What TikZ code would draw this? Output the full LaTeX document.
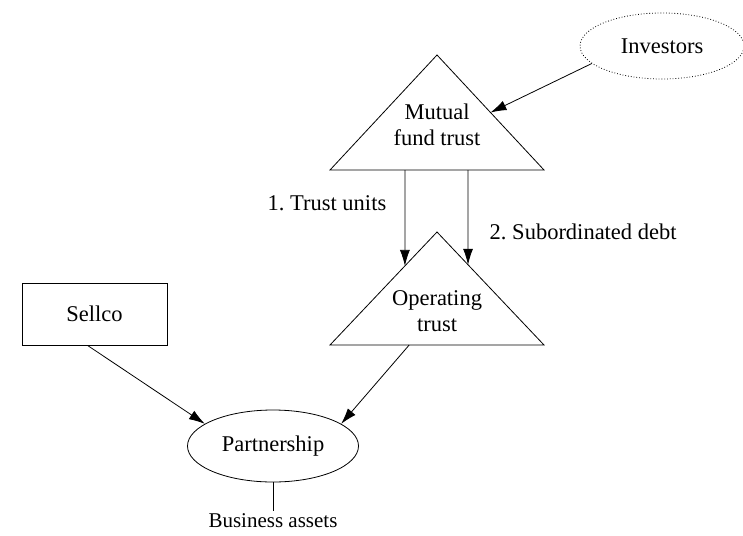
\documentclass[tikz,border=0pt]{standalone}
\usepackage{fontspec}
\setmainfont{Liberation Serif}
\usetikzlibrary{arrows.meta}
\usetikzlibrary{calc}
\usetikzlibrary{shapes.geometric}

\begin{document}
\frenchspacing
\begin{tikzpicture}[x=1pt,y=-1pt,line width=0.8pt,font=\fontsize{22.5}{26}\selectfont,
  >={Latex[length=16pt,width=10pt]},
  party/.style={draw,ellipse,inner sep=0pt}]
  \useasboundingbox (0,0) rectangle (743,535);

  \node[party,dotted,minimum width=164pt,minimum height=66pt] (inv) at (662,46) {Investors};

  % mutual fund trust
  \coordinate (mftTop) at (437,55);
  \coordinate (mftL) at (330,170);
  \coordinate (mftR) at (544,170);
  \draw (mftTop)--(mftL)--(mftR)--cycle;
  \node[align=center] (mft) at (437,125) {Mutual\\fund trust};

  % operating trust
  \coordinate (opTop) at (437,232);
  \coordinate (opL) at (330,345);
  \coordinate (opR) at (544,345);
  \draw (opTop)--(opL)--(opR)--cycle;
  \node[align=center] (op) at (437,311) {Operating\\trust};

  \node[draw,minimum width=145pt,minimum height=62pt] (sellco) at (94.5,314) {Sellco};
  \node[party,minimum width=171pt,minimum height=72pt] (part) at (273,446) {Partnership};
  \node[anchor=north,inner sep=2pt,font=\fontsize{21}{24}\selectfont] (assets) at (273,511) {Business assets};

  \node[anchor=east] (units) at (390,203) {1. Trust units};
  \node[anchor=west] (debt) at (486,232) {2. Subordinated debt};

  \draw[->] (inv.194)--($(mftTop)!0.5!(mftR)$);
  \draw[->] ($(mftL)!0.35!(mftR)$)--($(opTop)!0.3!(opL)$);
  \draw[->] ($(mftL)!0.645!(mftR)$)--($(opTop)!0.29!(opR)$);
  \draw[->] ([xshift=-7pt]sellco.south)--(part.162);
  \draw[->] ($(opL)!0.37!(opR)$)--(part.18);
  \draw (part)--(assets);
\end{tikzpicture}
\end{document}
